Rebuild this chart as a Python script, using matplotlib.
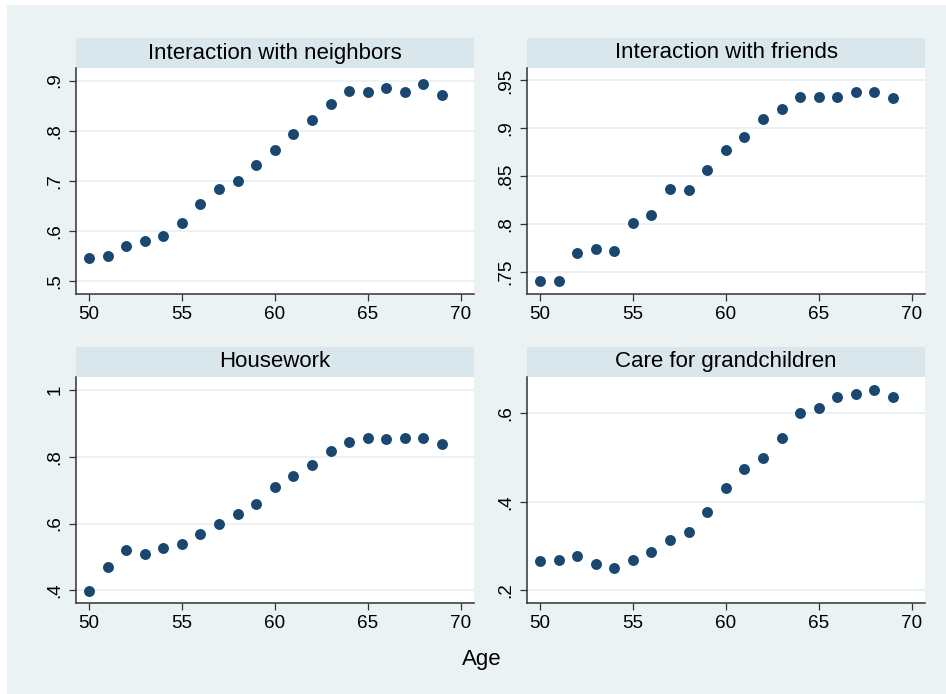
import matplotlib
matplotlib.use('Agg')
import matplotlib.pyplot as plt
from matplotlib.patches import Rectangle

plt.rcParams['font.family'] = ['Liberation Sans', 'DejaVu Sans']

ages = list(range(50, 70))

neighbors = [0.546, 0.549, 0.569, 0.579, 0.590, 0.616, 0.653, 0.684, 0.699, 0.732,
             0.761, 0.793, 0.821, 0.853, 0.879, 0.877, 0.885, 0.877, 0.893, 0.871]
friends = [0.741, 0.741, 0.770, 0.774, 0.772, 0.801, 0.810, 0.837, 0.836, 0.857,
           0.877, 0.891, 0.910, 0.920, 0.933, 0.933, 0.933, 0.9375, 0.9375, 0.932]
housework = [0.399, 0.469, 0.522, 0.510, 0.527, 0.540, 0.570, 0.599, 0.629, 0.660,
             0.708, 0.742, 0.774, 0.817, 0.845, 0.855, 0.853, 0.855, 0.855, 0.839]
grandchildren = [0.267, 0.268, 0.279, 0.259, 0.250, 0.268, 0.286, 0.314, 0.332, 0.377,
                 0.432, 0.475, 0.499, 0.545, 0.602, 0.613, 0.637, 0.645, 0.653, 0.638]

titles = ['Interaction with neighbors', 'Interaction with friends',
          'Housework', 'Care for grandchildren']
series = [neighbors, friends, housework, grandchildren]
yticks = [[0.5, 0.6, 0.7, 0.8, 0.9],
          [0.75, 0.8, 0.85, 0.9, 0.95],
          [0.4, 0.6, 0.8, 1.0],
          [0.2, 0.4, 0.6]]
ytick_labels = [['.5', '.6', '.7', '.8', '.9'],
                ['.75', '.8', '.85', '.9', '.95'],
                ['.4', '.6', '.8', '1'],
                ['.2', '.4', '.6']]
ylims = [(0.474, 0.925), (0.727, 0.963), (0.361, 1.04), (0.171, 0.683)]

W, H = 946, 694
bg = '#EAF2F3'
strip = '#D9E6EB'
navy = '#1A476F'

fig = plt.figure(figsize=(W / 100, H / 100), dpi=100, facecolor='white')
fig.patches.append(Rectangle((7 / W, 0), 1 - 7 / W, 1 - 5 / H, transform=fig.transFigure,
                             facecolor=bg, edgecolor='none', zorder=-10))

# panel boxes in pixels: left, right, top (below title strip), bottom
boxes = [(76, 474, 68, 294), (527, 925, 68, 294),
         (76, 474, 376.7, 603.3), (527, 925, 376.7, 603.3)]
strip_h = 30

for i in range(4):
    l, r, t, b = boxes[i]
    ax = fig.add_axes([l / W, 1 - b / H, (r - l) / W, (b - t) / H])
    ax.set_facecolor('white')
    ax.scatter(ages, series[i], s=62, color=navy, zorder=3, linewidths=0)
    ax.set_xlim(49.3, 70.72)
    ax.set_ylim(*ylims[i])
    ax.set_xticks([50, 55, 60, 65, 70])
    ax.set_yticks(yticks[i])
    ax.set_yticklabels(ytick_labels[i], rotation=90, va='center')
    ax.tick_params(axis='both', labelsize=13.6, color='#333333', length=5, width=0.9,
                   labelcolor='black')
    ax.tick_params(axis='y', pad=4)
    ax.grid(axis='y', color=bg, linewidth=1.4, zorder=0)
    for side in ['top', 'right']:
        ax.spines[side].set_visible(False)
    for side in ['left', 'bottom']:
        ax.spines[side].set_color('#333333')
        ax.spines[side].set_linewidth(1.1)
    # title strip above the plot region
    fig.patches.append(Rectangle((l / W, 1 - t / H), (r - l) / W, strip_h / H,
                                 transform=fig.transFigure, facecolor=strip,
                                 edgecolor='none', zorder=-5))
    fig.text((l + r) / 2 / W, 1 - (t - strip_h / 2) / H, titles[i], ha='center',
             va='center', fontsize=16)

fig.text(481.7 / W, 1 - 659 / H, 'Age', ha='center', va='center', fontsize=16)

fig.savefig('out.png', dpi=100, facecolor=fig.get_facecolor())
